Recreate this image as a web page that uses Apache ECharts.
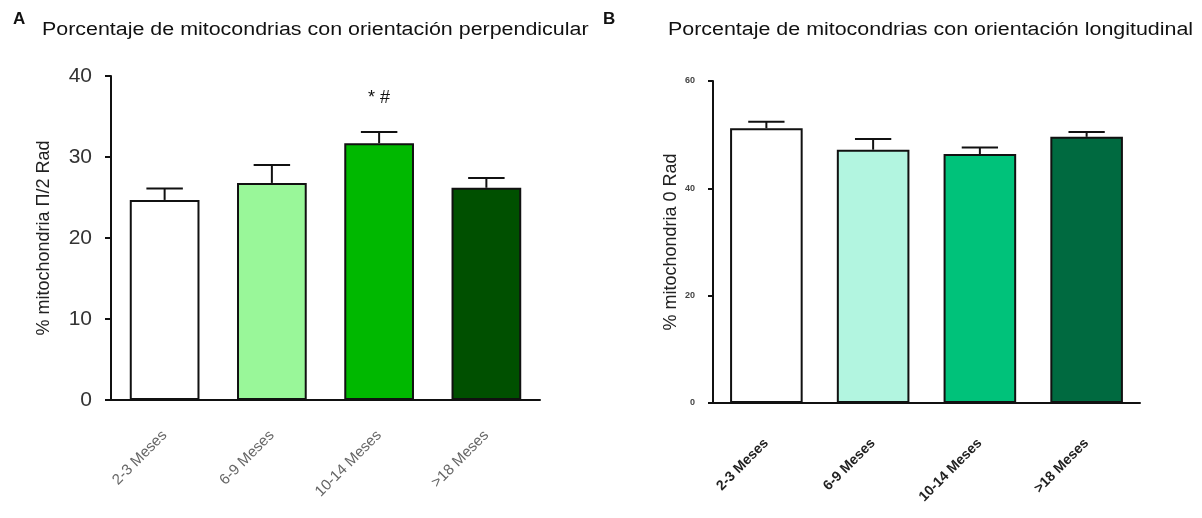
<!DOCTYPE html>
<html><head><meta charset="utf-8">
<script src="https://cdn.jsdelivr.net/npm/echarts@6/dist/echarts.min.js"></script>
<style>html,body{margin:0;padding:0;background:#fff}#c{width:1202px;height:518px}</style>
</head><body><div id="c"></div>
<script>
const categories = ["2-3 Meses", "6-9 Meses", "10-14 Meses", ">18 Meses"];
const perpMean = [24.7, 26.8, 31.7, 26.2];
const perpErr = [1.4, 2.2, 1.4, 1.2];
const perpNotes = ["", "", "* #", ""];
const longMean = [51.2, 47.2, 46.4, 49.6];
const longErr = [1.2, 2.0, 1.2, 0.9];
const perpColors = ["#ffffff", "#99f799", "#00b800", "#005000"];
const longColors = ["#ffffff", "#b2f5e0", "#00c27a", "#006a40"];
const titleA = 'Porcentaje de mitocondrias con orientación perpendicular';
const titleB = 'Porcentaje de mitocondrias con orientación longitudinal';

const chart = echarts.init(document.getElementById('c'));

function errSeries(idx, means, errs) {
  return {
    type: 'custom', xAxisIndex: idx, yAxisIndex: idx, z: 1,
    data: means.map((m, i) => [i, m, m + errs[i]]),
    renderItem: function (params, api) {
      const b = api.coord([api.value(0), api.value(1)]);
      const t = api.coord([api.value(0), api.value(2)]);
      const hw = api.size([1, 0])[0] * 0.17;
      const st = { stroke: '#111', lineWidth: 2 };
      return { type: 'group', children: [
        { type: 'line', shape: { x1: b[0], y1: b[1], x2: t[0], y2: t[1] }, style: st },
        { type: 'line', shape: { x1: t[0] - hw, y1: t[1], x2: t[0] + hw, y2: t[1] }, style: st }
      ]};
    }
  };
}

function xAxis(idx, bold) {
  return {
    type: 'category', gridIndex: idx, data: categories,
    axisLine: { lineStyle: { color: '#111', width: 2 } },
    axisTick: { alignWithLabel: true, length: 4, lineStyle: { color: '#111', width: 2 } },
    axisLabel: { rotate: 45, margin: bold ? 38 : 33, fontFamily: 'Liberation Sans, Arial, sans-serif',
      fontSize: bold ? 14 : 15, fontWeight: bold ? 'bold' : 'normal', color: bold ? '#222' : '#666' }
  };
}

chart.setOption({
  animation: false,
  backgroundColor: '#fff',
  title: [
    { text: 'A', left: 8, top: 6, textStyle: { fontFamily: 'Liberation Sans, Arial', fontSize: 17, fontWeight: 'bold', color: '#111' } },
    { text: 'B', left: 598, top: 6, textStyle: { fontFamily: 'Liberation Sans, Arial', fontSize: 17, fontWeight: 'bold', color: '#111' } }
  ],
  graphic: [
    { type: 'text', x: 42, y: 21, scaleX: 1.19,
      style: { text: titleA, font: '18px "Liberation Sans", Arial', fill: '#111' } },
    { type: 'text', x: 668, y: 21, scaleX: 1.19,
      style: { text: titleB, font: '18px "Liberation Sans", Arial', fill: '#111' } }
  ],
  grid: [
    { left: 111, top: 76, width: 429, height: 324 },
    { left: 713, top: 81, width: 427, height: 322 }
  ],
  xAxis: [xAxis(0, false), xAxis(1, true)],
  yAxis: [
    { type: 'value', gridIndex: 0, min: 0, max: 40, interval: 10,
      name: '% mitochondria Π/2 Rad', nameLocation: 'middle', nameGap: 58, nameRotate: 90,
      nameTextStyle: { fontFamily: 'Liberation Sans, Arial', fontSize: 18, color: '#222' },
      axisLine: { show: true, lineStyle: { color: '#111', width: 2 } },
      axisTick: { show: true, length: 6, lineStyle: { color: '#111', width: 2 } },
      splitLine: { show: false },
      axisLabel: { fontFamily: 'Liberation Sans, Arial', fontSize: 21, color: '#333', margin: 19 } },
    { type: 'value', gridIndex: 1, min: 0, max: 60, interval: 20,
      name: '% mitochondria 0 Rad', nameLocation: 'middle', nameGap: 33, nameRotate: 90,
      nameTextStyle: { fontFamily: 'Liberation Sans, Arial', fontSize: 18, color: '#222' },
      axisLine: { show: true, lineStyle: { color: '#111', width: 2 } },
      axisTick: { show: true, length: 5, lineStyle: { color: '#111', width: 2 } },
      splitLine: { show: false },
      axisLabel: { fontFamily: 'Liberation Sans, Arial', fontSize: 9, fontWeight: 'bold', color: '#444', margin: 18 } }
  ],
  series: [
    { type: 'bar', xAxisIndex: 0, yAxisIndex: 0, barWidth: '65%', z: 2,
      data: perpMean.map((v, i) => ({ value: v, itemStyle: { color: perpColors[i] } })),
      itemStyle: { borderColor: '#111', borderWidth: 2 },
      label: { show: true, position: 'top', distance: 36, fontSize: 18, color: '#111',
        fontFamily: 'Liberation Sans, Arial', formatter: p => perpNotes[p.dataIndex] } },
    errSeries(0, perpMean, perpErr),
    { type: 'bar', xAxisIndex: 1, yAxisIndex: 1, barWidth: '68%', z: 2,
      data: longMean.map((v, i) => ({ value: v, itemStyle: { color: longColors[i] } })),
      itemStyle: { borderColor: '#111', borderWidth: 2 } },
    errSeries(1, longMean, longErr)
  ]
});
</script></body></html>
